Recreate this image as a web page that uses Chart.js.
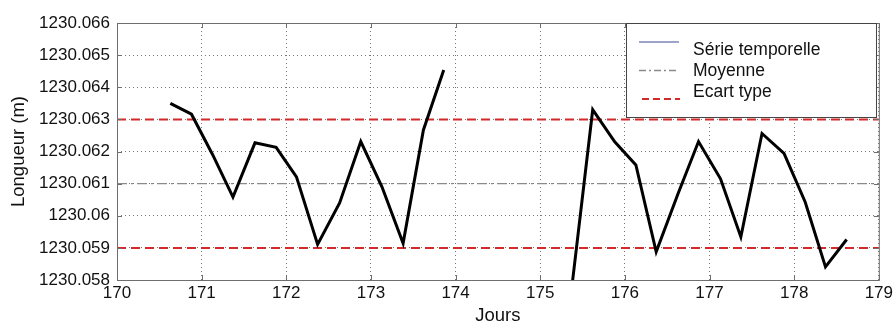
<!DOCTYPE html>
<html><head><meta charset="utf-8">
<script src="https://cdn.jsdelivr.net/npm/chart.js@4/dist/chart.umd.min.js"></script>
<style>html,body{margin:0;padding:0;background:#fff;}#wrap{width:896px;height:327px;}</style>
</head><body><div id="wrap"><canvas id="c" width="896" height="327"></canvas></div>
<script>
// ---- data ----
const days = [170.63,170.88,171.13,171.37,171.63,171.88,172.12,172.37,172.63,172.88,173.13,173.38,173.62,173.86,
              174.6,
              175.37,175.62,175.88,176.13,176.37,176.63,176.87,177.13,177.37,177.62,177.88,178.13,178.37,178.62];
const lengths = [1230.06350,1230.06316,1230.06190,1230.06058,1230.06227,1230.06213,1230.06121,1230.05911,1230.06040,1230.06231,1230.06090,1230.05914,1230.06267,1230.06454,
                 null,
                 1230.05770,1230.06330,1230.06230,1230.06158,1230.05888,1230.06070,1230.06231,1230.06115,1230.05934,1230.06256,1230.06194,1230.06043,1230.05841,1230.05926];
const meanValue = 1230.061;
const stdUpper = 1230.063;
const stdLower = 1230.059;
const xRange = [170, 179];
const xTicks = [170,171,172,173,174,175,176,177,178,179];
const yTickValues = [1230.058,1230.059,1230.060,1230.061,1230.062,1230.063,1230.064,1230.065,1230.066];
const yTickLabels = ["1230.058","1230.059","1230.06","1230.061","1230.062","1230.063","1230.064","1230.065","1230.066"];
const legendLabels = ["Série temporelle","Moyenne","Ecart type"];
const xTitle = "Jours";
const yTitle = "Longueur (m)";

const FONT = "'Liberation Sans', Arial, sans-serif";
const seriesData = days.map((d,i)=>({x:d,y:lengths[i]}));
const hline = v => xRange.map(x=>({x:x,y:v}));

const framePlugin = {
  id:'frame',
  afterDatasetsDraw(chart){
    const {ctx, chartArea:a, scales} = chart;
    ctx.save();
    ctx.strokeStyle = '#6e6e6e';
    ctx.lineWidth = 1;
    ctx.setLineDash([]);
    ctx.strokeRect(a.left+0.5, a.top+0.5, a.right-a.left, a.bottom-a.top);
    ctx.beginPath();
    const L = 5;
    xTicks.forEach(v=>{
      const px = Math.round(scales.x.getPixelForValue(v))+0.5;
      ctx.moveTo(px,a.bottom); ctx.lineTo(px,a.bottom-L);
      ctx.moveTo(px,a.top); ctx.lineTo(px,a.top+L);
    });
    yTickValues.forEach(v=>{
      const py = Math.round(scales.y.getPixelForValue(v))+0.5;
      ctx.moveTo(a.left,py); ctx.lineTo(a.left+L,py);
      ctx.moveTo(a.right,py); ctx.lineTo(a.right-L,py);
    });
    ctx.stroke();
    ctx.restore();
  },
  afterDraw(chart){
    const {ctx, chartArea:a} = chart;
    ctx.save();
    const bx = 626, by = a.top, bw = 250, bh = 94;
    ctx.fillStyle = '#fff';
    ctx.fillRect(bx, by, bw, bh);
    ctx.strokeStyle = '#444';
    ctx.lineWidth = 1;
    ctx.strokeRect(bx+0.5, by+0.5, bw, bh);
    // entries
    ctx.lineWidth = 1.5;
    ctx.strokeStyle = '#7f84b4';
    ctx.setLineDash([]);
    ctx.beginPath(); ctx.moveTo(639,42); ctx.lineTo(679,42); ctx.stroke();
    ctx.strokeStyle = '#8a8a8a';
    ctx.setLineDash([7,3,2,3]);
    ctx.beginPath(); ctx.moveTo(639,70.5); ctx.lineTo(679,70.5); ctx.stroke();
    ctx.strokeStyle = '#d22a2a';
    ctx.lineWidth = 2;
    ctx.setLineDash([7,4]);
    ctx.beginPath(); ctx.moveTo(642,99); ctx.lineTo(680,99); ctx.stroke();
    ctx.setLineDash([]);
    ctx.fillStyle = '#111';
    ctx.font = '17.5px ' + FONT;
    ctx.textBaseline = 'alphabetic';
    ctx.fillText(legendLabels[0], 693, 55);
    ctx.fillText(legendLabels[1], 693, 76);
    ctx.fillText(legendLabels[2], 693, 96.5);
    ctx.restore();
  }
};

new Chart(document.getElementById('c'), {
  type:'line',
  data:{datasets:[
    {label:legendLabels[0], data:seriesData, borderColor:'#000', borderWidth:3, pointRadius:0, tension:0, spanGaps:false, borderJoinStyle:'miter', order:0},
    {label:legendLabels[1], data:hline(meanValue), borderColor:'#8a8a8a', borderWidth:1.3, borderDash:[10,4,2,4], pointRadius:0, order:2},
    {label:legendLabels[2], data:hline(stdUpper), borderColor:'#d22a2a', borderWidth:2, borderDash:[9,5], pointRadius:0, order:1},
    {label:legendLabels[2], data:hline(stdLower), borderColor:'#d22a2a', borderWidth:2, borderDash:[9,5], pointRadius:0, order:1}
  ]},
  options:{
    responsive:false, animation:false, devicePixelRatio:1,
    layout:{padding:{top:23,right:17,left:0,bottom:0}},
    plugins:{legend:{display:false}, tooltip:{enabled:false}},
    scales:{
      x:{type:'linear', min:xRange[0], max:xRange[1],
         afterBuildTicks(s){ s.ticks = xTicks.map(v=>({value:v})); },
         afterFit(s){ s.height = 47; },
         ticks:{font:{family:FONT,size:17}, color:'#111', padding:3, maxRotation:0, callback:v=>String(v)},
         grid:{color:'#777', lineWidth:1, drawTicks:false},
         border:{display:false, dash:[1,3]},
         title:{display:true, text:xTitle, font:{family:FONT,size:18.5}, color:'#111', padding:{top:0,bottom:0}}
      },
      y:{type:'linear', min:yTickValues[0], max:yTickValues[yTickValues.length-1],
         afterBuildTicks(s){ s.ticks = yTickValues.map(v=>({value:v})); },
         afterFit(s){ s.width = 117; },
         ticks:{font:{family:FONT,size:17}, color:'#111', padding:7,
                callback:(v,i)=>yTickLabels[i]},
         grid:{color:'#777', lineWidth:1, drawTicks:false},
         border:{display:false, dash:[1,3]},
         title:{display:true, text:yTitle, font:{family:FONT,size:18.5}, color:'#111', padding:{top:8,bottom:0}}
      }
    }
  },
  plugins:[framePlugin]
});
</script></body></html>
